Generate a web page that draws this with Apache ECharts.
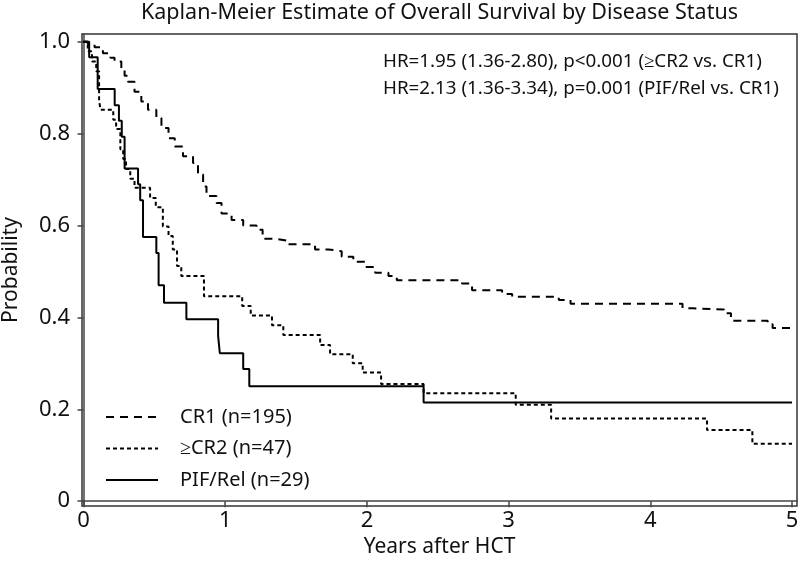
<!DOCTYPE html>
<html>
<head>
<meta charset="utf-8">
<script src="https://cdn.jsdelivr.net/npm/echarts@6/dist/echarts.min.js"></script>
<style>html,body{margin:0;padding:0;background:#fff;}#c{width:800px;height:572px;}</style>
</head>
<body>
<div id="c"></div>
<script>
// ---- data ----
const seriesNames = ['CR1 (n=195)', '\u2265CR2 (n=47)', 'PIF/Rel (n=29)'];
const xTicks = [0, 1, 2, 3, 4, 5];
const yTicks = [0, 0.2, 0.4, 0.6, 0.8, 1.0];
const yTickLabels = ['0', '0.2', '0.4', '0.6', '0.8', '1.0'];

const cr1 = [[0,1],[0.03,0.995],[0.078,0.988],[0.137,0.975],[0.19,0.965],[0.219,0.957],[0.267,0.939],[0.29,0.926],[0.313,0.913],[0.36,0.891],[0.408,0.87],[0.455,0.852],[0.514,0.834],[0.55,0.812],[0.6,0.79],[0.644,0.772],[0.702,0.751],[0.773,0.736],[0.808,0.711],[0.844,0.685],[0.868,0.664],[0.938,0.649],[0.974,0.626],[1.045,0.612],[1.127,0.6],[1.221,0.591],[1.264,0.571],[1.363,0.567],[1.434,0.559],[1.634,0.548],[1.728,0.544],[1.822,0.532],[1.904,0.521],[1.987,0.51],[2.058,0.497],[2.152,0.49],[2.211,0.481],[2.671,0.474],[2.742,0.459],[2.954,0.451],[3.025,0.445],[3.354,0.438],[3.437,0.43],[4.227,0.42],[4.298,0.417],[4.521,0.409],[4.569,0.393],[4.828,0.385],[4.863,0.377],[5,0.377]];

const cr2 = [[0,1],[0.03,0.979],[0.06,0.957],[0.09,0.936],[0.11,0.872],[0.12,0.852],[0.21,0.83],[0.23,0.81],[0.26,0.766],[0.28,0.745],[0.30,0.723],[0.33,0.702],[0.36,0.682],[0.47,0.66],[0.51,0.64],[0.56,0.598],[0.60,0.577],[0.63,0.548],[0.66,0.512],[0.69,0.49],[0.85,0.446],[1.12,0.425],[1.18,0.404],[1.33,0.383],[1.41,0.362],[1.67,0.34],[1.74,0.32],[1.9,0.30],[1.97,0.28],[2.1,0.255],[2.4,0.235],[3.05,0.21],[3.3,0.18],[4.4,0.155],[4.72,0.125],[5,0.125]];

const pif = [[0,1],[0.04,0.966],[0.10,0.897],[0.22,0.862],[0.25,0.828],[0.27,0.793],[0.29,0.724],[0.385,0.69],[0.40,0.655],[0.42,0.575],[0.514,0.54],[0.53,0.47],[0.568,0.432],[0.726,0.396],[0.95,0.36],[0.962,0.322],[1.127,0.288],[1.17,0.25],[2.4,0.215],[5,0.215]];

const annotation = ['HR=1.95 (1.36-2.80), p<0.001 (\u2265CR2 vs. CR1)', 'HR=2.13 (1.36-3.34), p=0.001 (PIF/Rel vs. CR1)'];

// ---- chart ----
const FONT = 'Noto Sans';
const chart = echarts.init(document.getElementById('c'), null, {renderer: 'canvas'});
const dashes = [[8, 6], [4, 3], 'solid'];
const datas = [cr1, cr2, pif];
chart.setOption({
  animation: false,
  backgroundColor: '#fff',
  textStyle: {fontFamily: FONT, color: '#111'},
  title: [{
    text: 'Kaplan-Meier Estimate of Overall Survival by Disease Status',
    left: 439.5, textAlign: 'center', top: 1, padding: 0,
    textStyle: {fontFamily: FONT, fontSize: 21.5, fontWeight: 'normal', color: '#111', lineHeight: 23}
  }, {
    text: annotation.join('\n'),
    left: 383, top: 48.5, padding: 0,
    textStyle: {fontFamily: FONT, fontSize: 18.8, fontWeight: 'normal', color: '#111', lineHeight: 27}
  }],
  grid: {left: 82, right: 3, top: 34, bottom: 66, outerBoundsMode: 'none', containLabel: false,
    show: true, borderColor: '#333', borderWidth: 1.5, backgroundColor: 'transparent'},
  legend: {
    orient: 'vertical', left: 100, top: 402,
    itemWidth: 52, itemHeight: 20, itemGap: 11.5,
    data: seriesNames,
    itemStyle: {opacity: 0},
    textStyle: {fontFamily: FONT, fontSize: 20, lineHeight: 20, color: '#111', padding: [0, 0, 0, 17]}
  },
  xAxis: {
    type: 'value', min: -0.0106, max: 5.035,
    name: 'Years after HCT', nameLocation: 'middle', nameGap: 29.5,
    nameTextStyle: {fontFamily: FONT, fontSize: 21, color: '#111'},
    axisLine: {show: true, lineStyle: {color: '#444', width: 1.5}},
    axisTick: {show: true, length: 6, customValues: xTicks, lineStyle: {color: '#444', width: 1.5}},
    axisLabel: {customValues: xTicks, margin: 4, fontFamily: FONT, fontSize: 22, color: '#111', formatter: v => String(v)},
    splitLine: {show: false}
  },
  yAxis: {
    type: 'value', min: -0.0104, max: 1.0168,
    name: 'Probability', nameLocation: 'middle', nameGap: 60, nameRotate: 90,
    nameTextStyle: {fontFamily: FONT, fontSize: 21, color: '#111'},
    axisLine: {show: true, lineStyle: {color: '#444', width: 1.5}},
    axisTick: {show: true, length: 6, customValues: yTicks, lineStyle: {color: '#444', width: 1.5}},
    axisLabel: {customValues: yTicks, margin: 12, fontFamily: FONT, fontSize: 22, color: '#111',
      formatter: v => { const i = yTicks.findIndex(t => Math.abs(t - v) < 1e-6); return i >= 0 ? yTickLabels[i] : ''; }},
    splitLine: {show: false}
  },
  series: seriesNames.map((n, i) => ({
    name: n, type: 'line', step: 'end', data: datas[i],
    symbol: 'none', showSymbol: false,
    lineStyle: {color: '#000', width: 2, type: dashes[i]},
    itemStyle: {color: '#000'}
  }))
});
</script>
</body>
</html>
